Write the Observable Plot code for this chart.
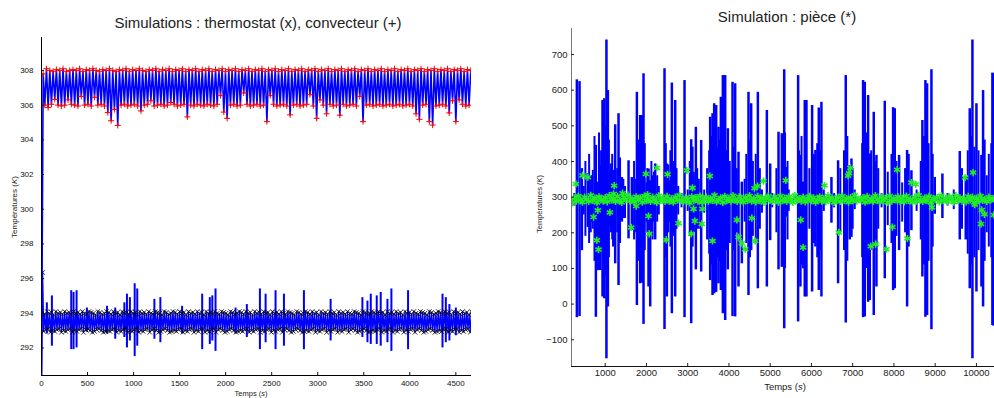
<!DOCTYPE html>
<html><head><meta charset="utf-8">
<script src="https://cdn.jsdelivr.net/npm/d3@7"></script>
<script src="https://cdn.jsdelivr.net/npm/@observablehq/plot@0.6"></script>
<style>
body{margin:0;background:#fff;font-family:"Liberation Sans",Arial,sans-serif;}
#wrap{position:relative;width:994px;height:398px;overflow:hidden;background:#fff;}
.panel{position:absolute;top:0;}
.lbl{position:absolute;white-space:nowrap;color:#222;transform:translate(-50%,-50%);line-height:1;}
.rot{transform:translate(-50%,-50%) rotate(-90deg);}
</style></head><body>
<div id="wrap">
<div id="left" class="panel" style="left:0"></div>
<div id="right" class="panel" style="left:494px"></div>
<div class="lbl" style="left:258px;top:22px;font-size:15px">Simulations : thermostat (x), convecteur (+)</div>
<div class="lbl" style="left:787px;top:16px;font-size:15px">Simulation : pièce (*)</div>
<div class="lbl" style="left:251px;top:394px;font-size:7.5px">Temps (<i>s</i>)</div>
<div class="lbl" style="left:785px;top:387px;font-size:9.5px">Temps (<i>s</i>)</div>
<div class="lbl rot" style="left:15px;top:207px;font-size:8px">Températures (<i>K</i>)</div>
<div class="lbl rot" style="left:540px;top:204px;font-size:7.5px">Températures (<i>K</i>)</div>
</div>
<script>
// ---------- left panel data ----------
const leftXDomain = [0, 4670];
const leftYDomain = [290.41, 309.9];
const leftXTicks = [0, 500, 1000, 1500, 2000, 2500, 3000, 3500, 4000, 4500];
const leftYTicks = [292, 294, 296, 298, 300, 302, 304, 306, 308];
const convDt = 18;  // seconds between samples
const convector = [
290, 307.8, 306, 308.1, 305.86, 308, 306.05, 307.95, 306.33, 308.05, 306, 308, 305.95, 308.1, 306, 307.95, 306.3, 308, 306.05, 308.05,
306, 308, 305.95, 308.1, 306.5, 307.95, 306, 308.05, 306.05, 308, 305.95, 308.1, 306.45, 308, 306, 307.95, 306.05, 308.05, 305.95, 308,
305.57, 308.1, 305.1, 308, 305.75, 307.95, 304.83, 308.05, 306, 308, 306.05, 308.1, 305.95, 307.95, 306, 308.05, 306.05, 308, 305.95, 308.1,
305.67, 308, 306, 307.95, 306.05, 308.05, 306.25, 308, 305.95, 308.1, 306, 307.95, 306.05, 308.05, 305.95, 308, 306, 308.1, 306.15, 307.95,
306.05, 308.05, 305.95, 308, 306, 308.1, 306.05, 307.95, 305.32, 308.05, 306, 308, 305.95, 308.1, 306.05, 307.95, 306, 308.05, 305.95, 308,
306.05, 308.1, 306, 307.95, 305.95, 308.05, 306.05, 308, 306.55, 308.1, 305.6, 307.95, 305.24, 308.05, 306, 308, 306.05, 308.1, 305.95, 307.95,
306, 308.05, 306.7, 308, 306.05, 308.1, 305.95, 307.95, 306, 308.05, 306.05, 308, 305.95, 308.1, 306, 307.95, 305.05, 308.05, 306.55, 308,
306.05, 308.1, 305.95, 307.95, 306, 308.05, 306.05, 308, 305.95, 308.1, 305.44, 307.95, 306, 308.05, 306.05, 308, 305.95, 308.1, 306, 307.95,
306.05, 308.05, 306.6, 308, 305.95, 308.1, 305.24, 307.95, 306.3, 308.05, 306, 308, 305.5, 308.1, 306.05, 307.95, 305.95, 308.05, 306, 308,
305.42, 308.1, 306.05, 307.95, 305.95, 308.05, 306, 308, 306.05, 308.1, 305.95, 307.95, 306.5, 308.05, 305.05, 308, 306, 308.1, 306.05, 307.95,
305.95, 308.05, 306, 308, 306.05, 308.1, 305.95, 307.95, 306, 308.05, 306.05, 308, 305.95, 308.1, 306, 307.95, 306.05, 308.05, 305.95, 308,
306, 308.1, 306.05, 307.95, 305.95, 308.05, 305.5, 308, 305.18, 308.1, 306, 307.95, 306.05, 308.05, 305.05, 308, 304.85, 308.1, 305.95, 307.95,
306, 308.05, 306.05, 308, 305.95, 308.1, 305.55, 307.95, 306.25, 308.05, 305.05, 308, 306.3, 308.1, 306.05, 307.95, 305.95, 308.05, 306, 308
];
const thermDt = 12;
const thermostat = [
290, 296.35, 292.95, 293.95, 293.05, 294.1, 293.1, 294, 292.9, 294.05, 293, 293.9, 292.95, 294.1, 293.05, 294, 293.1, 294.05, 292.9, 293.95,
293, 294.1, 292.95, 294, 293.05, 294.05, 293.1, 293.9, 292.9, 294.1, 293, 294, 292.95, 294.05, 293.05, 293.95, 293.1, 294.1, 292.9, 294,
293.05, 293.95, 293.1, 294.1, 293, 294.05, 292.9, 294, 292.95, 293.9, 293.05, 294.1, 293.1, 294.05, 293, 293.95, 292.9, 294, 292.95, 294.1,
293, 294.05, 292.95, 293.95, 293.05, 294.1, 293.1, 294, 292.9, 294.05, 293, 293.9, 292.95, 294.1, 293.05, 294, 293.1, 294.05, 292.9, 293.95,
293, 294.1, 292.95, 294, 293.05, 294.05, 293.1, 293.9, 292.9, 294.1, 293, 294, 292.95, 294.05, 293.05, 293.95, 293.1, 294.1, 292.9, 294,
293.05, 293.95, 293.1, 294.1, 293, 294.05, 292.9, 294, 292.95, 293.9, 293.05, 294.1, 293.1, 294.05, 293, 293.95, 292.9, 294, 292.95, 294.1,
293, 294.05, 292.95, 293.95, 293.05, 294.1, 293.1, 294, 292.9, 294.05, 293, 293.9, 292.95, 294.1, 293.05, 294, 293.1, 294.05, 292.9, 293.95,
293, 294.1, 292.95, 294, 293.05, 294.05, 293.1, 293.9, 292.9, 294.1, 293, 294, 292.95, 294.05, 293.05, 293.95, 293.1, 294.1, 292.9, 294,
293.05, 293.95, 293.1, 294.1, 293, 294.05, 292.9, 294, 292.95, 293.9, 293.05, 294.1, 293.1, 294.05, 293, 293.95, 292.9, 294, 292.95, 294.1,
293, 294.05, 292.95, 293.95, 293.05, 294.1, 293.1, 294, 292.9, 294.05, 293, 293.9, 292.95, 294.1, 293.05, 294, 293.1, 294.05, 292.9, 293.95,
293, 294.1, 292.95, 294, 293.05, 294.05, 293.1, 293.9, 292.9, 294.1, 293, 294, 292.95, 294.05, 293.05, 293.95, 293.1, 294.1, 292.9, 294,
293.05, 293.95, 293.1, 294.1, 293, 294.05, 292.9, 294, 292.95, 293.9, 293.05, 294.1, 293.1, 294.05, 293, 293.95, 292.9, 294, 292.95, 294.1,
293, 294.05, 292.95, 293.95, 293.05, 294.1, 293.1, 294, 292.9, 294.05, 293, 293.9, 292.95, 294.1, 293.05, 294, 293.1, 294.05, 292.9, 293.95,
293, 294.1, 292.95, 294, 293.05, 294.05, 293.1, 293.9, 292.9, 294.1, 293, 294, 292.95, 294.05, 293.05, 293.95, 293.1, 294.1, 292.9, 294,
293.05, 293.95, 293.1, 294.1, 293, 294.05, 292.9, 294, 292.95, 293.9, 293.05, 294.1, 293.1, 294.05, 293, 293.95, 292.9, 294, 292.95, 294.1,
293, 294.05, 292.95, 293.95, 293.05, 294.1, 293.1, 294, 292.9, 294.05, 293, 293.9, 292.95, 294.1, 293.05, 294, 293.1, 294.05, 292.9, 293.95,
293, 294.1, 292.95, 294, 293.05, 294.05, 293.1, 293.9, 292.9, 294.1, 293, 294, 292.95, 294.05, 293.05, 293.95, 293.1, 294.1, 292.9, 294,
293.05, 293.95, 293.1, 294.1, 293, 294.05, 292.9, 294, 292.95, 293.9, 293.05, 294.1, 293.1, 294.05, 293, 293.95, 292.9, 294, 292.95, 294.1,
293, 294.05, 292.95, 293.95, 293.05, 294.1, 293.1, 294, 292.9, 294.05, 293, 293.9, 292.95, 294.1, 293.05, 294, 293.1, 294.05, 292.9, 293.95,
293, 294.1, 292.95, 294, 293.05, 294.05, 293.1, 293.9, 292.9, 294.1
];
const thermSpikeT  = [58, 113, 323, 348, 381, 493, 711, 801, 900, 928, 960, 1012, 1040, 1226, 1291, 1527, 1745, 1828, 1855, 1890, 2107, 2230, 2372, 2434, 2542, 2633, 2850, 3140, 3485, 3540, 3576, 3641, 3684, 3757, 3800, 3981, 4355, 4391, 4430, 4500];
const thermSpikeHi = [294.6, 295.0, 295.3, 295.2, 295.3, 294.3, 294.4, 294.3, 294.6, 295.1, 294.9, 295.7, 295.4, 294.8, 294.9, 294.4, 295.1, 294.9, 295.0, 295.4, 294.3, 294.5, 295.4, 295.1, 295.3, 295.1, 295.3, 294.8, 294.9, 294.7, 295.1, 295.0, 295.2, 294.8, 295.4, 295.3, 295.1, 294.9, 294.5, 294.3];
const thermSpikeLo = [292.8, 292.1, 291.9, 291.9, 292.0, 292.9, 292.8, 292.5, 292.6, 292.0, 292.4, 291.5, 292.1, 292.5, 292.3, 292.8, 291.9, 292.2, 292.4, 291.8, 292.8, 292.6, 291.9, 292.3, 291.9, 292.1, 291.9, 292.4, 292.6, 292.3, 292.2, 292.2, 292.1, 292.3, 291.8, 291.9, 292.0, 292.3, 292.4, 292.7];

// ---------- right panel data ----------
const rightXDomain = [183, 10438];
const rightYDomain = [-175, 773];
const rightXTicks = [1000, 2000, 3000, 4000, 5000, 6000, 7000, 8000, 9000, 10000];
const rightYTicks = [-100, 0, 100, 200, 300, 400, 500, 600, 700];
const roomStart = 200, roomDt = 50;
const roomBase = [
284, 298, 289, 303, 292, 286, 300, 294, 288, 305, 291, 297, 285, 301, 293, 289, 299, 287, 304, 292,
296, 288, 302, 290, 285, 299, 293, 306, 289, 295, 287, 301, 292, 298, 286, 303, 290, 294, 288, 300,
293, 285, 304, 291, 297, 288, 302, 289, 295, 286, 300, 292, 305, 290, 287, 298, 294, 284, 301, 291,
299, 289, 303, 286, 294, 300, 288, 296, 291, 305, 287, 293, 298, 285, 302, 290, 297, 289, 304, 292,
288, 301, 293, 286, 299, 291, 304, 289, 295, 287, 302, 290, 298, 285, 296, 303, 292, 288, 300, 294,
286, 303, 290, 297, 288, 301, 293, 285, 305, 291, 296, 289, 300, 287, 294, 302, 290, 298, 286, 293,
301, 289, 295, 287, 304, 292, 298, 285, 293, 300, 288, 303, 291, 296, 286, 299, 290, 305, 289, 294,
292, 299, 286, 302, 290, 295, 288, 304, 293, 287, 300, 291, 297, 285, 303, 289, 296, 292, 301, 288,
297, 287, 303, 291, 294, 286, 300, 289, 305, 292, 288, 298, 290, 302, 285, 296, 293, 299, 287, 304,
290, 296, 288, 301, 293, 286, 304, 291, 298, 289, 295, 287, 302, 292, 300, 285, 297, 290, 303, 291,
294, 288, 300, 292, 296, 293
];
const roomSpikeT  = [313, 378, 434, 580, 774, 822, 879, 935, 976, 1030, 1065, 1145, 1242, 1323, 1404, 1566, 1646, 1768, 1848, 1889, 1929, 2050, 2091, 2212, 2438, 2495, 2616, 2697, 2923, 3085, 3198, 3327, 3545, 3602, 3642, 3690, 3747, 3804, 3852, 3909, 3973, 4087, 4151, 4232, 4313, 4474, 4539, 4701, 4919, 5000, 5202, 5282, 5340, 5378, 5677, 5733, 5798, 5838, 5879, 6016, 6097, 6178, 6242, 6485, 6646, 6832, 6929, 6970, 7252, 7293, 7374, 7414, 7511, 7576, 7778, 7980, 8020, 8125, 8319, 8424, 8690, 8763, 8804, 8909, 8990, 9175, 9596, 9741, 9838, 9903, 10000, 10121, 10161, 10387, 10420];
const roomSpikeHi = [629, 624, 380, 366, 445, 342, 389, 571, 576, 741, 599, 393, 503, 534, 355, 402, 355, 594, 529, 529, 646, 379, 346, 393, 660, 393, 620, 571, 627, 461, 496, 459, 524, 534, 562, 557, 496, 580, 641, 641, 492, 622, 618, 426, 342, 594, 562, 594, 543, 393, 482, 478, 657, 383, 641, 417, 342, 571, 571, 557, 431, 550, 566, 355, 402, 641, 388, 407, 627, 622, 585, 421, 538, 417, 569, 551, 548, 417, 431, 374, 515, 627, 618, 657, 355, 365, 428, 355, 548, 741, 562, 417, 599, 648, 646];
const roomSpikeLo = [-38, -35, 150, 215, -37, 94, 94, 20, 15, -153, -8, 200, 113, 52, 230, 183, 207, -4, 57, 59, -57, 48, -8, 180, -71, 20, -27, 20, -38, -55, 96, 90, 66, 24, 29, 33, 57, 38, -27, -46, 96, -35, -36, 48, 113, 24, 150, 43, 48, 178, 96, 103, -69, 244, -50, 48, 99, 20, 20, 34, 160, 38, 20, 227, 57, -53, 180, 187, -38, -36, 5, 10, -32, 48, 71, 38, 43, 150, -8, 206, 76, -37, -32, -72, 252, 240, 180, 180, 43, -153, 34, 48, -8, -60, -62];
const roomSmallT  = [250, 480, 520, 610, 650, 680, 700, 740, 850, 900, 1000, 1090, 1100, 1170, 1190, 1290, 1360, 1440, 1480, 1700, 1720, 1800, 1870, 1960, 2000, 2020, 2120, 2150, 2180, 2260, 2300, 2470, 2530, 2560, 2580, 2650, 2730, 2770, 2850, 3000, 3050, 3120, 3150, 3230, 3270, 3400, 3470, 3520, 3570, 3620, 3670, 3720, 3780, 3830, 3880, 3940, 4000, 4020, 4120, 4190, 4380, 4420, 4510, 4580, 4600, 4650, 4750, 4800, 5050, 5150, 5300, 5360, 5420, 5450, 5700, 5760, 5860, 5950, 6060, 6140, 6210, 6300, 6550, 6700, 6790, 6870, 7000, 7050, 7230, 7330, 7450, 7540, 7620, 7700, 7850, 7940, 8060, 8200, 8270, 8360, 8550, 8650, 8730, 8840, 8940, 9300, 9450, 9650, 9790, 9870, 9950, 10050, 10200, 10250, 10300, 10360];
const roomSmallHi = [310, 330, 400, 420, 360, 360, 375, 470, 480, 430, 500, 460, 370, 420, 375, 380, 410, 350, 330, 400, 350, 460, 420, 450, 340, 380, 400, 360, 370, 360, 330, 450, 390, 345, 430, 400, 380, 330, 310, 320, 400, 440, 370, 380, 350, 320, 380, 430, 470, 450, 480, 440, 460, 420, 500, 430, 360, 400, 440, 380, 350, 420, 460, 400, 330, 420, 380, 320, 310, 380, 450, 480, 400, 320, 430, 470, 440, 380, 420, 450, 430, 320, 310, 380, 430, 470, 380, 320, 450, 480, 430, 400, 380, 310, 370, 420, 400, 340, 380, 420, 320, 400, 470, 450, 420, 310, 320, 380, 430, 470, 440, 430, 460, 360, 420, 450];
const roomSmallLo = [275, 250, 190, 170, 200, 230, 210, 120, 100, 150, 80, 130, 220, 180, 160, 200, 170, 240, 240, 180, 200, 120, 170, 150, 230, 200, 200, 180, 230, 230, 250, 130, 200, 230, 160, 190, 210, 250, 270, 260, 190, 160, 200, 210, 210, 255, 180, 140, 110, 120, 100, 130, 120, 150, 80, 150, 200, 170, 150, 200, 230, 170, 130, 190, 240, 170, 210, 255, 270, 200, 130, 100, 180, 260, 150, 110, 140, 210, 170, 130, 150, 260, 270, 200, 150, 120, 210, 265, 130, 100, 150, 180, 210, 270, 220, 170, 190, 230, 200, 160, 260, 180, 110, 120, 160, 275, 265, 210, 140, 110, 130, 150, 120, 200, 160, 130];
const roomOutT = [289, 451, 580, 717, 798, 838, 822, 1113, 1218, 1202, 1420, 1630, 1751, 1986, 2050, 2067, 2026, 2252, 2511, 2479, 2778, 2980, 3117, 3085, 3141, 3174, 3343, 3359, 3537, 3602, 4192, 4232, 4313, 4394, 4555, 4636, 4620, 4693, 4838, 5378, 5741, 5798, 6315, 6663, 6889, 6913, 6945, 7438, 7559, 7818, 7963, 8077, 8327, 8424, 8529, 8925, 9725, 9919, 9959, 10129, 10194, 10113, 10420];
const roomOutV = [337, 361, 356, 244, 179, 153, 263, 257, 332, 309, 311, 215, 275, 365, 247, 197, 307, 382, 364, 180, 227, 375, 326, 197, 267, 233, 225, 267, 359, 177, 236, 188, 171, 154, 241, 177, 325, 331, 345, 347, 236, 159, 333, 201, 360, 367, 382, 162, 168, 154, 216, 377, 184, 341, 336, 271, 355, 369, 279, 264, 252, 225, 250];

// ---------- tables ----------
const BLUE = "#0000ff", RED = "#ff0000", GREEN = "#22ee22";
const FONT = "'Liberation Sans', Arial, sans-serif";
const convData = convector.map((v, i) => ({t: i * convDt, v}));
const thermData = thermostat.map((v, i) => ({t: i * thermDt, v}));
const thermSpikes = thermSpikeT.map((t, i) => ({t, hi: thermSpikeHi[i], lo: thermSpikeLo[i]}));
const roomBaseData = roomBase.map((v, i) => ({t: roomStart + i * roomDt, v}));
const roomSpikes = roomSpikeT.map((t, i) => ({t, hi: roomSpikeHi[i], lo: roomSpikeLo[i]}));
const roomSmall = roomSmallT.map((t, i) => ({t, hi: roomSmallHi[i], lo: roomSmallLo[i]}));
const roomOut = roomOutT.map((t, i) => ({t, v: roomOutV[i]}));

const left = Plot.plot({
  width: 490, height: 398,
  marginLeft: 41, marginRight: 19, marginTop: 37, marginBottom: 23,
  x: {domain: leftXDomain}, y: {domain: leftYDomain},
  style: {fontFamily: FONT, color: "#111", background: "transparent"},
  marks: [
    Plot.line(thermData, {x: "t", y: "v", stroke: BLUE, strokeWidth: 1.3, clip: true}),
    Plot.ruleX(thermSpikes, {x: "t", y1: "lo", y2: "hi", stroke: BLUE, strokeWidth: 2, clip: true}),
    Plot.line(convData, {x: "t", y: "v", stroke: BLUE, strokeWidth: 1.6, clip: true}),
    Plot.dot(thermData, {x: "t", y: "v", symbol: "times", r: 2.2, fill: "none", stroke: "#000", strokeWidth: 0.8, clip: true}),
    Plot.dot(convData, {x: "t", y: "v", symbol: "plus", r: 2.1, fill: "none", stroke: RED, strokeWidth: 1, clip: true}),
    Plot.ruleX([leftXDomain[0]], {stroke: "#000"}),
    Plot.ruleY([leftYDomain[0]], {stroke: "#000"}),
    Plot.axisX({ticks: leftXTicks, tickFormat: "d", tickSize: -3, tickPadding: 8, fontSize: 8, label: null}),
    Plot.axisY({ticks: leftYTicks, tickFormat: "d", tickSize: -3, tickPadding: 11, fontSize: 8, label: null})
  ]
});
document.getElementById("left").appendChild(left);

const right = Plot.plot({
  width: 500, height: 398,
  marginLeft: 77, marginRight: 0, marginTop: 28, marginBottom: 32,
  x: {domain: rightXDomain}, y: {domain: rightYDomain},
  style: {fontFamily: FONT, color: "#222", background: "transparent"},
  marks: [
    Plot.ruleX(roomSmall, {x: "t", y1: "lo", y2: "hi", stroke: BLUE, strokeWidth: 2, clip: true}),
    Plot.ruleX(roomSpikes, {x: "t", y1: "lo", y2: "hi", stroke: BLUE, strokeWidth: 2.5, clip: true}),
    Plot.line(roomBaseData, {x: "t", y: "v", stroke: BLUE, strokeWidth: 1.5, clip: true}),
    Plot.dot(roomBaseData, {x: "t", y: "v", symbol: "asterisk", r: 3.4, fill: "none", stroke: GREEN, strokeWidth: 1.6, clip: true}),
    Plot.dot(roomOut, {x: "t", y: "v", symbol: "asterisk", r: 3.4, fill: "none", stroke: GREEN, strokeWidth: 1.6, clip: true}),
    Plot.ruleX([rightXDomain[0]], {stroke: "#777"}),
    Plot.ruleY([rightYDomain[0]], {stroke: "#111"}),
    Plot.axisX({ticks: rightXTicks, tickFormat: "d", tickSize: -3, tickPadding: 6, fontSize: 9.5, label: null}),
    Plot.axisY({ticks: rightYTicks, tickFormat: "d", tickSize: -3, tickPadding: 7, fontSize: 9.5, label: null})
  ]
});
document.getElementById("right").appendChild(right);
</script>
</body></html>
